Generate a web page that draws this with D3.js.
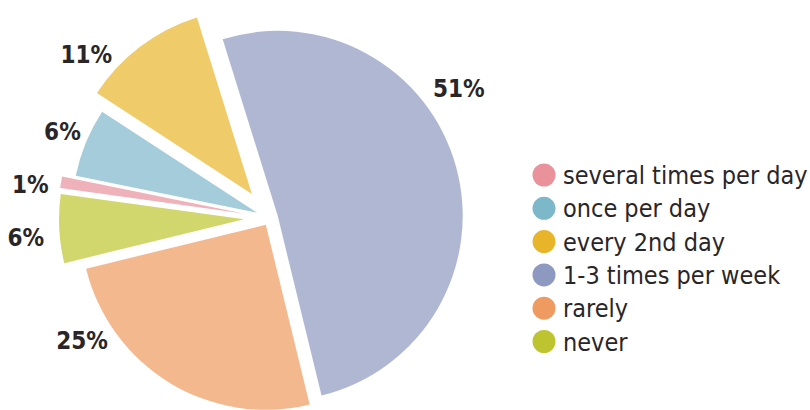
<!DOCTYPE html>
<html>
<head>
<meta charset="utf-8">
<script src="https://cdn.jsdelivr.net/npm/d3@7"></script>
<style>
  html, body { margin: 0; padding: 0; background: #fff; }
  svg { display: block; }
  text { font-family: "DejaVu Sans Condensed", "DejaVu Sans", sans-serif; font-stretch: condensed; fill: #2a2627; }
</style>
</head>
<body>
<svg id="chart" width="810" height="410"></svg>
<script>
// ---- data ----
const categories = ["several times per day", "once per day", "every 2nd day", "1-3 times per week", "rarely", "never"];
const values = [1, 6, 11, 51, 25, 6];
const valueLabels = ["1%", "6%", "11%", "51%", "25%", "6%"];
const colors = ["#EA929C", "#7DB7CA", "#E8B52A", "#8D99C0", "#EF9A60", "#BEC42F"];

// ---- layout / style config ----
const W = 810, H = 410;
const cx = 270, cy = 218, R = 185;
const startDeg = -82.1;
const pullOut = [27, 14, 30, 8, 8, 26];          // explode distance per slice
const labelNudgeDeg = [-1.6, 0.4, -11.2, -19, 25.7, -1.6];
const labelDist = [242, 225, 246, 229, 224, 245];

const svg = d3.select("#chart");
const rad = d => d * Math.PI / 180;

const pie = d3.pie().sort(null).value(d => d)
  .startAngle(rad(startDeg)).endAngle(rad(startDeg) + 2 * Math.PI);
const arcs = pie(values);
const arc = d3.arc().innerRadius(0).outerRadius(R);

const g = svg.append("g").attr("transform", `translate(${cx},${cy})`);

g.selectAll("path.slice").data(arcs).enter().append("path")
  .attr("class", "slice")
  .attr("d", arc)
  .attr("fill", (d, i) => colors[i])
  .attr("fill-opacity", 0.7)
  .attr("transform", (d, i) => {
    const m = (d.startAngle + d.endAngle) / 2;
    return `translate(${pullOut[i] * Math.sin(m)},${-pullOut[i] * Math.cos(m)})`;
  });

g.selectAll("text.pct").data(arcs).enter().append("text")
  .attr("class", "pct")
  .attr("x", (d, i) => { const m = (d.startAngle + d.endAngle) / 2 + rad(labelNudgeDeg[i]); return labelDist[i] * Math.sin(m); })
  .attr("y", (d, i) => { const m = (d.startAngle + d.endAngle) / 2 + rad(labelNudgeDeg[i]); return -labelDist[i] * Math.cos(m); })
  .attr("text-anchor", "middle")
  .attr("dy", "0.36em")
  .style("font-weight", "bold")
  .style("font-size", "24px")
  .text((d, i) => valueLabels[i]);

// ---- legend ----
const lg = svg.append("g").attr("transform", "translate(544,175)");
const rowH = 33.3;
const items = lg.selectAll("g.item").data(categories).enter().append("g")
  .attr("class", "item")
  .attr("transform", (d, i) => `translate(0,${i * rowH})`);
items.append("circle").attr("r", 11.5).attr("fill", (d, i) => colors[i]);
items.append("text").attr("x", 19).attr("y", 9)
  .style("font-size", "25px")
  .text(d => d);
</script>
</body>
</html>
